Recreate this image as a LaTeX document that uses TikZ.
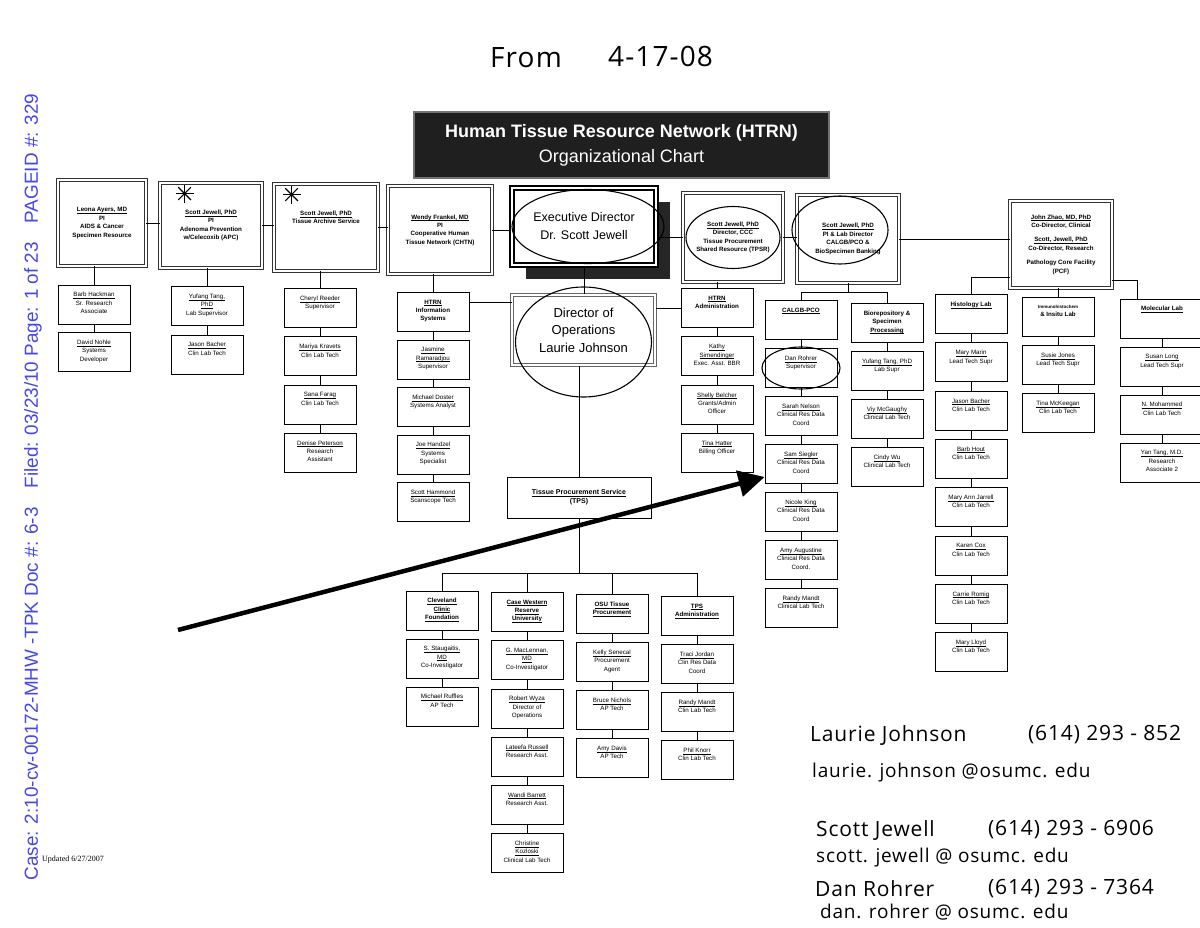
\documentclass[tikz,border=0pt]{standalone}
\usepackage{fontspec}
\setmainfont{Liberation Sans}
\newfontfamily\handfont[LetterSpace=4]{Open Sans}
\newfontfamily\scanfont{Liberation Serif}
\usetikzlibrary{arrows.meta, positioning, shadows}
\definecolor{stampblue}{RGB}{70,70,235}
\newsavebox{\ulbox}
\newcommand{\uline}[1]{\leavevmode\sbox\ulbox{#1}\rlap{\rule[-1.5pt]{\wd\ulbox}{0.45pt}}\usebox\ulbox}

\begin{document}
\begin{tikzpicture}[x=1pt, y=-1pt,
    % Box styles
    staff box/.style={
        draw, line width=0.8pt, inner sep=0pt,
        execute at begin node={\begin{minipage}[c][39pt][t]{#1}\centering
            \fontsize{6.2}{8.3}\selectfont\vspace*{7.5pt}},
        execute at end node={\end{minipage}},
    },
    staff box/.default=72pt,
    pi text/.style={align=center, font=\bfseries\fontsize{6.2}{8.4}\selectfont},
    pi box/.style={
        pi text, draw=black!80, double, double distance=1.3pt,
        line width=0.9pt, inner sep=2pt,
    },
    head box/.style={
        draw=black, double, double distance=2pt, line width=1.6pt,
        fill=white, align=center, inner sep=2pt,
    },
    ops box/.style={
        draw=black!60, double, double distance=1.6pt, line width=1pt,
        fill=white, align=center, inner sep=2pt,
    },
    title box/.style={
        draw=black!55, line width=2pt, fill=black!88, text=white,
        align=center, font=\fontsize{18}{25}\selectfont,
    },
    % Line styles
    wire/.style={draw, line width=0.8pt},
    pen/.style={line width=1.1pt},
    pointer/.style={line width=4.5pt, -{Triangle[length=26pt,width=26pt]}},
    hand/.style={font=\handfont\fontsize{21}{24}\selectfont, anchor=west, inner sep=0pt},
    hand mail/.style={hand, font=\handfont\fontsize{19}{22}\selectfont},
  ]
  \fill[white] (0,0) rectangle (1200,928);
  \useasboundingbox (0,0) rectangle (1200,928);
  \clip (0,0) rectangle (1200,928);

  % --- Title ---
  \node[title box, minimum width=415pt, minimum height=66pt] (header) at (621.5,145)
    {\textbf{Human Tissue Resource Network (HTRN)}\\Organizational Chart};

  % --- Top row ---
  \node[pi box, minimum width=88pt, minimum height=86pt] (leona) at (102,223)
    {\uline{Leona Ayers, MD}\\PI\\AIDS \& Cancer\\Specimen Resource};
  \node[pi box, minimum width=102pt, minimum height=85pt] (apc) at (211,225.5)
    {\uline{Scott Jewell, PhD}\\PI\\Adenoma Prevention\\w/Celecoxib (APC)};
  \node[pi box, minimum width=104pt, minimum height=87pt] (arch) at (326,227.5) {};
  \node[pi text] (archtxt) at ([yshift=10pt]arch.center)
    {\uline{Scott Jewell, PhD}\\Tissue Archive Service};
  \node[pi box, minimum width=104pt, minimum height=88pt] (wendy) at (440,230)
    {\uline{Wendy Frankel, MD}\\PI\\Cooperative Human\\Tissue Network (CHTN)};
  \node[head box, minimum width=144pt, minimum height=77pt,
        drop shadow={shadow xshift=14pt, shadow yshift=-14pt, fill=black!85, opacity=1},
        font=\fontsize{12.5}{18}\selectfont] (exec) at (584,226.5)
    {Executive Director\\Dr. Scott Jewell};
  \node[pi box, minimum width=100pt, minimum height=89pt] (tpsr) at (733,237.5)
    {\uline{Scott Jewell, PhD}\\Director, CCC\\Tissue Procurement\\Shared Resource (TPSR)};
  \node[pi box, minimum width=102pt, minimum height=88pt] (calgb) at (848,239)
    {\uline{Scott Jewell, PhD}\\PI \& Lab Director\\CALGB/PCO \&\\BioSpecimen Banking};
  \node[pi box, minimum width=102pt, minimum height=87pt] (pcf) at (1061,244.5)
    {\uline{John Zhao, MD, PhD}\\Co-Director, Clinical\\[6pt]\uline{Scott, Jewell, PhD}\\Co-Director, Research\\[6pt]Pathology Core Facility\\(PCF)};

  \node[ops box, minimum width=143pt, minimum height=70pt,
        font=\fontsize{13}{17.5}\selectfont] (director) at (583.5,330)
    {Director of\\Operations\\Laurie Johnson};
  \node[draw, line width=0.8pt, minimum width=144pt, minimum height=41pt, align=center,
        font=\bfseries\fontsize{7}{9}\selectfont] (tps) at (579,497.5)
    {\uline{Tissue Procurement Service}\\(TPS)};

  % --- Staff columns ---
  \foreach \t [count=\i] in {
      {\uline{Barb Hackman}\\Sr. Research\\Associate},
      {\uline{David Nohle}\\Systems\\Developer}}
    \node[staff box] (aids\i) at (94,{304.5+47.5*(\i-1)}) {\t};
  \foreach \t [count=\i] in {
      {\uline{Yufang Tang,}\\\uline{PhD}\\Lab Supervisor},
      {\uline{Jason Bacher}\\Clin Lab Tech}}
    \node[staff box] (apc\i) at (207,{306+48.5*(\i-1)}) {\t};
  \foreach \t [count=\i] in {
      {\uline{Cheryl Reeder}\\Supervisor},
      {\uline{Mariya Kravets}\\Clin Lab Tech},
      {\uline{Sana Farag}\\Clin Lab Tech},
      {\uline{Denise Peterson}\\Research\\Assistant}}
    \node[staff box] (arch\i) at (320,{308+48.3*(\i-1)}) {\t};
  \foreach \t [count=\i] in {
      {\textbf{\uline{HTRN}}\\\textbf{Information}\\\textbf{Systems}},
      {\uline{Jasmine}\\\uline{Ramaradjou}\\Supervisor},
      {\uline{Michael Doster}\\Systems Analyst},
      {\uline{Joe Handzel}\\Systems\\Specialist},
      {\uline{Scott Hammond}\\Scanscope Tech}}
    \node[staff box] (info\i) at (433,{312+47.5*(\i-1)}) {\t};
  \foreach \t [count=\i] in {
      {\textbf{\uline{HTRN}}\\\textbf{Administration}},
      {\uline{Kathy}\\\uline{Simendinger}\\Exec. Asst. BBR},
      {\uline{Shelly Belcher}\\Grants/Admin\\Officer},
      {\uline{Tina Hatter}\\Billing Officer}}
    \node[staff box] (admin\i) at (717,{308+48.3*(\i-1)}) {\t};
  \foreach \t [count=\i] in {
      {\textbf{\uline{CALGB-PCO}}},
      {\uline{Dan Rohrer}\\Supervisor},
      {\uline{Sarah Nelson}\\Clinical Res Data\\Coord},
      {\uline{Sam Siegler}\\Clinical Res Data\\Coord},
      {\uline{Nicole King}\\Clinical Res Data\\Coord},
      {\uline{Amy Augustine}\\Clinical Res Data\\Coord.},
      {\uline{Randy Mandt}\\Clinical Lab Tech}}
    \node[staff box] (pco\i) at (801,{320+48*(\i-1)}) {\t};
  \foreach \t [count=\i] in {
      {\textbf{Biorepository \&}\\\textbf{Specimen}\\\textbf{\uline{Processing}}},
      {\uline{Yufang Tang, PhD}\\Lab Supr},
      {\uline{Viy McGaughy}\\Clinical Lab Tech},
      {\uline{Cindy Wu}\\Clinical Lab Tech}}
    \node[staff box] (bio\i) at (887,{323+48*(\i-1)}) {\t};
  \foreach \t [count=\i] in {
      {\textbf{\uline{Histology Lab}}},
      {\uline{Mary Marin}\\Lead Tech Supr},
      {\uline{Jason Bacher}\\Clin Lab Tech},
      {\uline{Barb Hout}\\Clin Lab Tech},
      {\uline{Mary Ann Jarrell}\\Clin Lab Tech},
      {\uline{Karen Cox}\\Clin Lab Tech},
      {\uline{Carrie Romig}\\Clin Lab Tech},
      {\uline{Mary Lloyd}\\Clin Lab Tech}}
    \node[staff box] (hist\i) at (971,{314+48.3*(\i-1)}) {\t};
  \foreach \t [count=\i] in {
      {{\bfseries\fontsize{4.5}{6}\selectfont Immunohistochem}\\\textbf{\& Insitu Lab}},
      {\uline{Susie Jones}\\Lead Tech Supr},
      {\uline{Tina McKeegan}\\Clin Lab Tech}}
    \node[staff box] (imm\i) at (1058,{317+48*(\i-1)}) {\t};
  \foreach \t [count=\i] in {
      {\textbf{\uline{Molecular Lab}}},
      {\uline{Susan Long}\\Lead Tech Supr},
      {\uline{N. Mohammed}\\Clin Lab Tech},
      {\uline{Yan Tang, M.D.}\\Research\\Associate 2}}
    \node[staff box=84pt] (mol\i) at (1162,{318.5+48*(\i-1)}) {\t};

  % --- TPS sites ---
  \foreach \t [count=\i] in {
      {\textbf{\uline{Cleveland}}\\\textbf{\uline{Clinic}}\\\textbf{\uline{Foundation}}},
      {\uline{S. Staugaitis,}\\\uline{MD}\\Co-Investigator},
      {\uline{Michael Ruffles}\\AP Tech}}
    \node[staff box] (ccf\i) at (442,{610.5+48*(\i-1)}) {\t};
  \foreach \t [count=\i] in {
      {\textbf{\uline{Case Western}}\\\textbf{\uline{Reserve}}\\\textbf{\uline{University}}},
      {\uline{G. MacLennan,}\\\uline{MD}\\Co-Investigator},
      {\uline{Robert Wyza}\\Director of\\Operations},
      {\uline{Lateefa Russell}\\Research Asst.},
      {\uline{Wandi Barrett}\\Research Asst.},
      {\uline{Christine}\\\uline{Kozloski}\\Clinical Lab Tech}}
    \node[staff box] (cwru\i) at (527,{612+48.2*(\i-1)}) {\t};
  \foreach \t [count=\i] in {
      {\textbf{\uline{OSU Tissue}}\\\textbf{\uline{Procurement}}},
      {\uline{Kelly Senecal}\\Procurement\\Agent},
      {\uline{Bruce Nichols}\\AP Tech},
      {\uline{Amy Davis}\\AP Tech}}
    \node[staff box] (osu\i) at (612,{614+48*(\i-1)}) {\t};
  \foreach \t [count=\i] in {
      {\textbf{\uline{TPS}}\\\textbf{\uline{Administration}}},
      {\uline{Traci Jordan}\\Clin Res Data\\Coord},
      {\uline{Randy Mandt}\\Clin Lab Tech},
      {\uline{Phil Knorr}\\Clin Lab Tech}}
    \node[staff box] (tpsa\i) at (697,{616+48*(\i-1)}) {\t};

  % --- Connectors: top row ---
  \draw[wire] (leona.east) -- (leona.east -| apc.west);
  \draw[wire] (apc.east) -- (apc.east -| arch.west);
  \draw[wire] (arch.east) -- (arch.east -| wendy.west);
  \draw[wire] (wendy.east) -- (wendy.east -| exec.west);
  \draw[wire] (tpsr.west) -- (tpsr.west -| exec.east);
  \draw[wire] (tpsr.east) -- (tpsr.east -| calgb.west);
  \draw[wire] (calgb.east) -- (calgb.east -| pcf.west);

  % --- Connectors: drops and chains ---
  \draw[wire] (aids1.north) -- (aids1.north |- leona.south);
  \draw[wire] (apc1.north) -- (apc1.north |- apc.south);
  \draw[wire] (arch1.north) -- (arch1.north |- arch.south);
  \draw[wire] (info1.north) -- (info1.north |- wendy.south);
  \draw[wire] (admin1.north) -- (admin1.north |- tpsr.south);
  \draw[wire] (aids1.south) -- (aids2.north);
  \draw[wire] (apc1.south) -- (apc2.north);
  \foreach \i [remember=\i as \j (initially 1)] in {2,...,4}
    \draw[wire] (arch\j.south) -- (arch\i.north);
  \foreach \i [remember=\i as \j (initially 1)] in {2,...,5}
    \draw[wire] (info\j.south) -- (info\i.north);
  \foreach \i [remember=\i as \j (initially 1)] in {2,...,4}
    \draw[wire] (admin\j.south) -- (admin\i.north);
  \foreach \i [remember=\i as \j (initially 1)] in {2,...,7}
    \draw[wire] (pco\j.south) -- (pco\i.north);
  \foreach \i [remember=\i as \j (initially 1)] in {2,...,4}
    \draw[wire] (bio\j.south) -- (bio\i.north);
  \foreach \i [remember=\i as \j (initially 1)] in {2,...,8}
    \draw[wire] (hist\j.south) -- (hist\i.north);
  \foreach \i [remember=\i as \j (initially 1)] in {2,3}
    \draw[wire] (imm\j.south) -- (imm\i.north);
  \foreach \i [remember=\i as \j (initially 1)] in {2,...,4}
    \draw[wire] (mol\j.south) -- (mol\i.north);
  \foreach \i [remember=\i as \j (initially 1)] in {2,3}
    \draw[wire] (ccf\j.south) -- (ccf\i.north);
  \foreach \i [remember=\i as \j (initially 1)] in {2,...,6}
    \draw[wire] (cwru\j.south) -- (cwru\i.north);
  \foreach \i [remember=\i as \j (initially 1)] in {2,...,4}
    \draw[wire] (osu\j.south) -- (osu\i.north);
  \foreach \i [remember=\i as \j (initially 1)] in {2,...,4}
    \draw[wire] (tpsa\j.south) -- (tpsa\i.north);

  % --- Brackets ---
  \draw[wire] (calgb.south) -- ++(0,9) coordinate (cbar);
  \draw[wire] (pco1.north) -- (pco1.north |- cbar) -- (bio1.north |- cbar) -- (bio1.north);
  \draw[wire] (hist1.north) |- ([yshift=11pt]pcf.south west);
  \draw[wire] ([xshift=-25pt]mol1.north) |- ([yshift=8pt]pcf.south east);
  \draw[wire] (imm1.north) -- (imm1.north |- pcf.south);

  % --- Director of operations ---
  \draw[wire] (exec.south) -- (exec.south |- director.north);
  \draw[wire] ([yshift=10pt]info1.east) -- ([yshift=10pt]info1.east -| director.west);
  \draw[wire] (admin1.west) -- (admin1.west -| director.east);
  \draw[wire] (tps.north) -- (tps.north |- director.south);
  \draw[wire] (tps.south) -- ++(0,55) coordinate (tbar);
  \draw[wire] (ccf1.north) -- (ccf1.north |- tbar) -- (tpsa1.north |- tbar) -- (tpsa1.north);
  \draw[wire] (cwru1.north) -- (cwru1.north |- tbar);
  \draw[wire] (osu1.north) -- (osu1.north |- tbar);

  % --- Pen marks ---
  \draw[pen] ([xshift=4pt]exec.center) ellipse [x radius=76, y radius=37];
  \draw[pen] (tpsr.center) ellipse [x radius=47, y radius=31];
  \draw[pen] ([xshift=-8pt,yshift=9pt]calgb.center) ellipse [x radius=48, y radius=34];
  \draw[pen] ([yshift=-12pt]director.center) ellipse [x radius=68, y radius=55];
  \draw[pen] (pco2.center) ellipse [x radius=39, y radius=21];
  \foreach \n/\dx in {apc/25, arch/18}
    \foreach \a in {0,45,90,135}
      \draw[pen] ([shift={(\dx,11)}]\n.north west) ++(\a:9) -- ++(\a+180:18);

  \coordinate (tail) at (178,630);
  \draw[pointer] (tail) -- ([yshift=-13pt]pco4.west);

  % --- Handwriting ---
  \node[hand, font=\handfont\fontsize{28}{30}\selectfont] (from) at (490,58) {From};
  \node[hand, font=\handfont\fontsize{28}{30}\selectfont] (date) at (608,56) {4-17-08};
  \node[hand] (lj) at (810,735) {Laurie Johnson};
  \node[hand] (ljtel) at (1028,735) {(614) 293 - 852};
  \node[hand mail] (ljmail) at (812,773) {laurie. johnson @osumc. edu};
  \node[hand] (sj) at (816,830) {Scott Jewell};
  \node[hand] (sjtel) at (988,830) {(614) 293 - 6906};
  \node[hand mail] (sjmail) at (816,858) {scott. jewell @ osumc. edu};
  \node[hand] (dr) at (815,889) {Dan Rohrer};
  \node[hand] (drtel) at (988,889) {(614) 293 - 7364};
  \node[hand mail] (drmail) at (820,912) {dan. rohrer @ osumc. edu};

  % --- Margin ---
  \node[font=\scanfont\fontsize{8}{9}\selectfont, anchor=west, inner sep=0pt] (upd) at (42,860)
    {Updated 6/27/2007};
  \node[rotate=90, text=stampblue, font=\fontsize{18.9}{20}\selectfont, inner sep=0pt] (stamp) at (33,487)
    {Case: 2:10-cv-00172-MHW -TPK Doc \#: 6-3\quad Filed: 03/23/10 Page: 1 of 23\quad PAGEID \#: 329};
\end{tikzpicture}
\end{document}
